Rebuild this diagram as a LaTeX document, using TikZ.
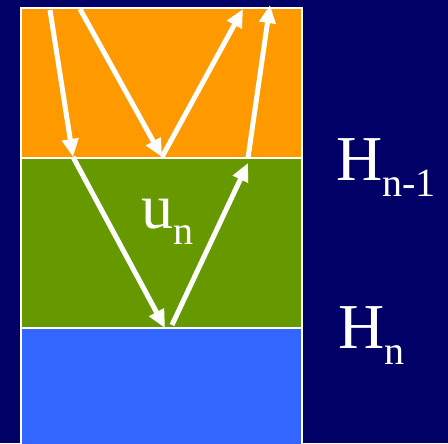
\documentclass[tikz,border=0pt]{standalone}
\usepackage{fontspec}
\setmainfont{Liberation Serif}
\usetikzlibrary{arrows.meta}
\definecolor{bg-navy}{HTML}{000066}
\definecolor{layer-orange}{HTML}{FF9900}
\definecolor{layer-green}{HTML}{669900}
\definecolor{layer-blue}{HTML}{3366FF}
\newcommand{\lowidx}[1]{\raisebox{-11.4pt}{\fontsize{28.5pt}{30pt}\selectfont #1}}
\tikzset{
  layer/.style={draw=white, line width=0.05cm},
  ray/.style={-{Triangle[length=0.45cm, width=0.4cm]}, line width=0.125cm, draw=white},
  label-text/.style={text=white, inner sep=0pt, anchor=base west,
    font=\fontsize{45.5pt}{48pt}\selectfont}
}

\begin{document}
\begin{tikzpicture}[x=0.025cm, y=-0.025cm]
  \fill[bg-navy] (0,0) rectangle (448,443);
  \useasboundingbox (0,0) rectangle (448,443);

  % layers
  \draw[layer, fill=layer-orange] (21,8)   rectangle (302,158);
  \draw[layer, fill=layer-green]  (21,158) rectangle (302,328);
  \draw[layer, fill=layer-blue]   (21,328) rectangle (302,446);

  % ray end points
  \coordinate (in-left)   at (50,10);
  \coordinate (in-mid)    at (80,9);
  \coordinate (top-a)     at (73,157);
  \coordinate (top-b)     at (162,157);
  \coordinate (out-mid)   at (243,9);
  \coordinate (top-c)     at (248,158);
  \coordinate (out-right) at (270,5);
  \coordinate (bot-hit)   at (165,328);
  \coordinate (bot-start) at (172,325);
  \coordinate (top-c-in)  at (248,163);

  \draw[ray] (in-left) -- (top-a);
  \draw[ray] (in-mid) -- (top-b);
  \draw[ray] (top-b) -- (out-mid);
  \draw[ray] (top-c) -- (out-right);
  \draw[ray] (top-a) -- (bot-hit);
  \draw[ray] (bot-start) -- (top-c-in);

  \node[label-text] (un)  at (141,228) {u\lowidx{n}};
  \node[label-text] (hn1) at (336,180) {H\lowidx{n-1}};
  \node[label-text] (hn)  at (338,348) {H\lowidx{n}};
\end{tikzpicture}
\end{document}
